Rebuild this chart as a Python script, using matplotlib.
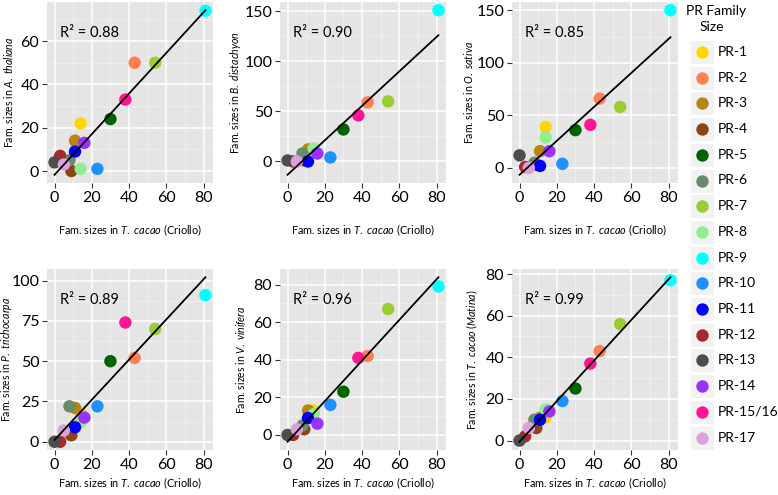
import numpy as np
import matplotlib
matplotlib.use("Agg")
import matplotlib.pyplot as plt
from matplotlib.ticker import AutoMinorLocator, MultipleLocator
from matplotlib.patches import Rectangle

plt.rcParams['font.family'] = ['Lato', 'DejaVu Sans']
plt.rcParams['mathtext.fontset'] = 'custom'
plt.rcParams['mathtext.rm'] = 'Lato'
plt.rcParams['mathtext.it'] = 'Lato:italic'

# PR families and colours
families = ['PR-1', 'PR-2', 'PR-3', 'PR-4', 'PR-5', 'PR-6', 'PR-7', 'PR-8',
            'PR-9', 'PR-10', 'PR-11', 'PR-12', 'PR-13', 'PR-14', 'PR-15/16', 'PR-17']
colors = ['#FFD700', '#FF7F50', '#B8860B', '#8B4513', '#006400', '#698B69',
          '#9ACD32', '#90EE90', '#00FFFF', '#1E90FF', '#0000FF', '#A52A2A',
          '#4D4D4D', '#9B30FF', '#FF1493', '#DDA0DD']

# family sizes in T. cacao (Criollo), x axis of every panel
criollo = [14, 43, 11, 9, 30, 8, 54, 14, 81, 23, 11, 3, 0, 16, 38, 5]

athaliana = [22, 50, 14, 0, 24, 5, 50, 1, 74, 1, 9, 7, 4, 13, 33, 3]
bdistachyon = [12, 59, 12, 1, 32, 8, 60, 13, 151, 4, 0, 0, 1, 8, 46, 0]
osativa = [39, 66, 16, 3, 36, 5, 58, 29, 150, 4, 2, 1, 12, 16, 41, 0]
ptrichocarpa = [18, 52, 21, 4, 50, 22, 70, 12, 91, 22, 9, 0, 0, 15, 74, 7]
vvinifera = [13, 42, 13, 3, 23, 5, 67, 11, 79, 16, 9, 0, 0, 6, 41, 3]
matina = [11, 43, 11, 6, 25, 10, 56, 15, 77, 19, 10, 2, 0, 14, 37, 6]

ylabels = [r'Fam. sizes in $\mathit{A.\ thaliana}$',
           r'Fam. sizes in $\mathit{B.\ distachyon}$',
           r'Fam. sizes in $\mathit{O.\ sativa}$',
           r'Fam. sizes in $\mathit{P.\ trichocarpa}$',
           r'Fam. sizes in $\mathit{V.\ vinifera}$',
           r'Fam. sizes in $\mathit{T.\ cacao\ (Matina)}$']
r2_labels = ['0.88', '0.90', '0.85', '0.89', '0.96', '0.99']
ysteps = [20, 50, 50, 25, 20, 20]
series = [athaliana, bdistachyon, osativa, ptrichocarpa, vvinifera, matina]

W, H = 778, 495
fig = plt.figure(figsize=(W / 100, H / 100), dpi=100)

lefts = [47, 280, 512]
tops = [2, 269]
aw, ah = 166, 181
label_x = [-0.19, -0.225, -0.225, -0.2, -0.19, -0.19]

x = np.array(criollo, dtype=float)
for i, (ys, lab, r2, step) in enumerate(zip(series, ylabels, r2_labels, ysteps)):
    row, col = divmod(i, 3)
    ax = fig.add_axes([lefts[col] / W, 1 - (tops[row] + ah) / H, aw / W, ah / H])
    ax.set_facecolor('#E5E5E5')
    for s in ax.spines.values():
        s.set_visible(False)
    y = np.array(ys, dtype=float)
    k, b = np.polyfit(x, y, 1)
    xl = np.array([x.min(), x.max()])
    ax.scatter(x, y, c=colors, s=80, linewidths=0, zorder=3)
    ax.plot(xl, k * xl + b, color='black', lw=1.3, zorder=4)
    ax.margins(0.05)
    ax.xaxis.set_major_locator(MultipleLocator(20))
    ax.yaxis.set_major_locator(MultipleLocator(step))
    ax.xaxis.set_minor_locator(AutoMinorLocator(2))
    ax.yaxis.set_minor_locator(AutoMinorLocator(2))
    ax.grid(which='major', color='white', lw=1.1, zorder=0)
    ax.grid(which='minor', color='#F2F2F2', lw=0.5, zorder=0)
    ax.set_axisbelow(True)
    ax.tick_params(which='major', length=3.5, width=0.8, color='#333333',
                   labelsize=11.5, pad=2)
    ax.tick_params(which='minor', length=0)
    ax.set_ylabel(lab, fontsize=7.6)
    ax.yaxis.set_label_coords(label_x[i], 0.5)
    ax.set_xlabel(r'Fam. sizes in $\mathit{T.\ cacao}$ (Criollo)', fontsize=7.8,
                  labelpad=13 if row == 0 else 3)
    ax.text(0.08, 0.83, 'R\u00b2 = ' + r2, transform=ax.transAxes,
            fontsize=10.5, va='center', ha='left')

# legend
lax = fig.add_axes([0, 0, 1, 1])
lax.set_xlim(0, W)
lax.set_ylim(H, 0)
lax.axis('off')
lax.text(716, 11, 'PR Family', fontsize=10, ha='center', va='center')
lax.text(712, 27, 'Size', fontsize=10, ha='center', va='center')
for j, (name, c) in enumerate(zip(families, colors)):
    yc = 52 + j * 25.7
    lax.add_patch(Rectangle((690, yc - 12), 24, 24, facecolor='#F2F2F2',
                            edgecolor='white', lw=0.8))
    lax.scatter([702], [yc], s=80, color=c, linewidths=0)
    lax.text(718, yc, name, fontsize=10, va='center', ha='left')

fig.savefig('out.png', dpi=100)
